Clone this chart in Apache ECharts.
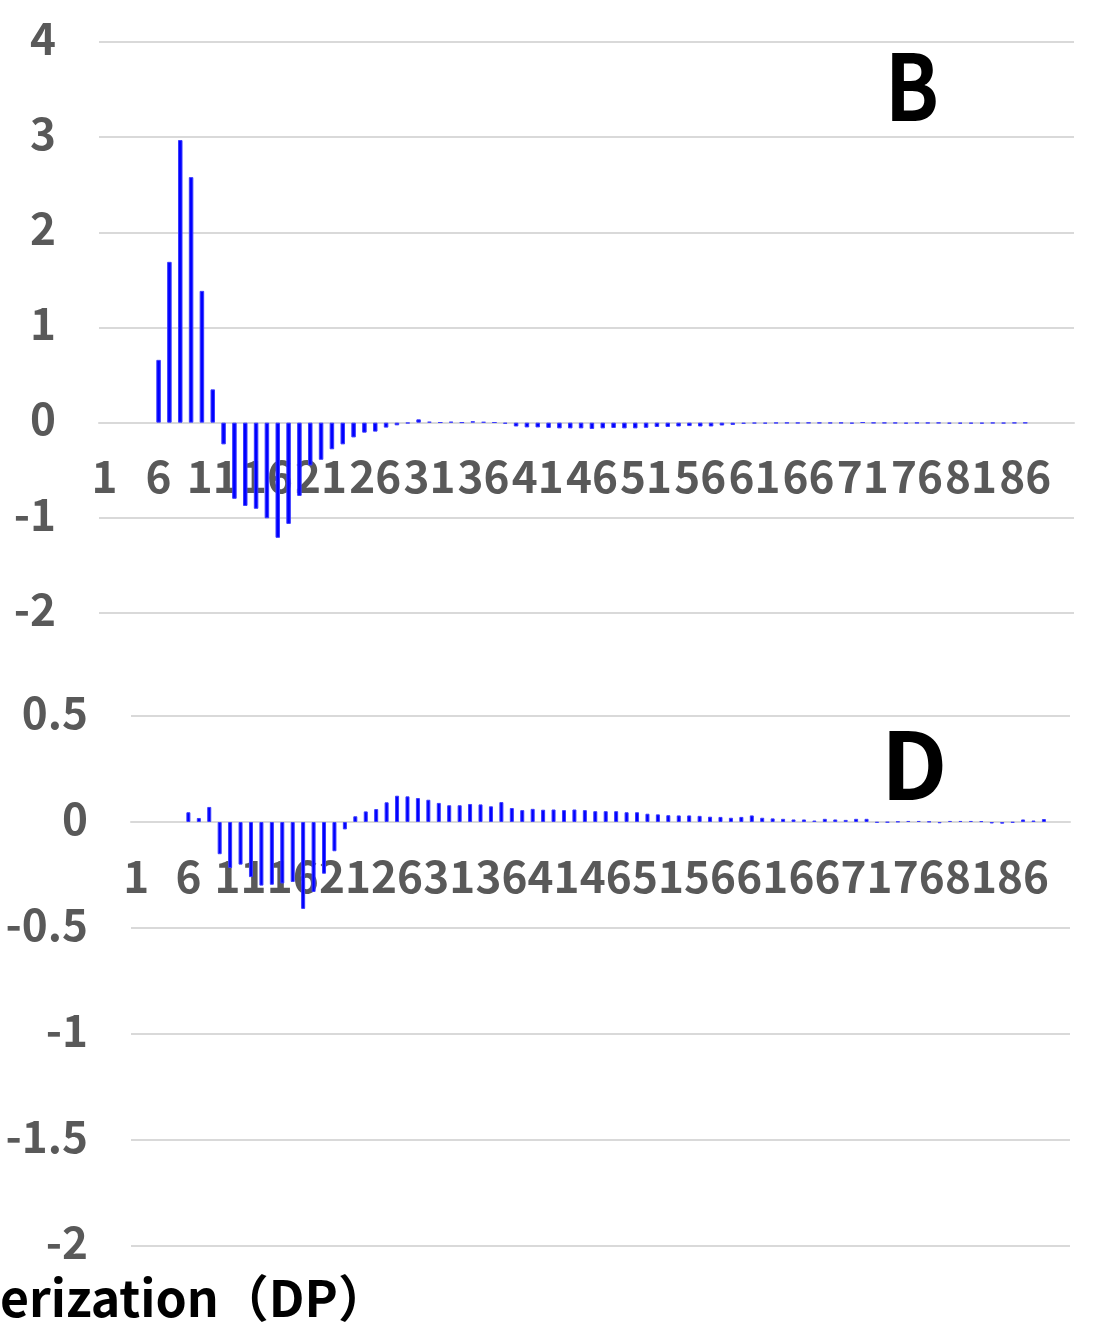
<!DOCTYPE html>
<html>
<head>
<meta charset="utf-8">
<script src="https://cdn.jsdelivr.net/npm/echarts@6/dist/echarts.min.js"></script>
<style>
html,body{margin:0;padding:0;background:#fff;}
#chart{width:1101px;height:1326px;}
</style>
</head>
<body>
<div id="chart"></div>
<script>
var categories = [1,2,3,4,5,6,7,8,9,10,11,12,13,14,15,16,17,18,19,20,21,22,23,24,25,26,27,28,29,30,
  31,32,33,34,35,36,37,38,39,40,41,42,43,44,45,46,47,48,49,50,51,52,53,54,55,56,57,58,59,60,
  61,62,63,64,65,66,67,68,69,70,71,72,73,74,75,76,77,78,79,80,81,82,83,84,85,86,87,88,89,90];

var seriesB = [null,null,null,null,null,0.66,1.69,2.97,2.58,1.385,
  0.35,-0.228,-0.80,-0.875,-0.905,-1.005,-1.21,-1.064,-0.77,-0.45,
  -0.39,-0.28,-0.228,-0.155,-0.105,-0.094,-0.052,-0.028,-0.007,0.035,
  0.010,0.003,0.010,0.002,0.015,0.008,0.003,-0.012,-0.040,-0.050,
  -0.050,-0.055,-0.060,-0.060,-0.060,-0.066,-0.060,-0.056,-0.060,-0.060,
  -0.054,-0.045,-0.045,-0.040,-0.036,-0.040,-0.040,-0.030,-0.024,-0.012,
  -0.008,-0.010,-0.006,-0.005,-0.006,-0.004,-0.005,-0.006,-0.005,-0.010,
  0.003,-0.004,-0.005,-0.006,-0.010,-0.005,-0.006,-0.005,-0.010,-0.010,
  -0.010,-0.010,-0.006,-0.008,-0.005,-0.004,null,null,null,null];

var seriesD = [null,null,null,null,null,0.046,0.019,0.071,-0.152,-0.217,
  -0.201,-0.26,-0.30,-0.296,-0.29,-0.283,-0.41,-0.33,-0.244,-0.138,
  -0.035,0.027,0.050,0.061,0.093,0.124,0.121,0.113,0.105,0.090,
  0.079,0.079,0.085,0.083,0.074,0.094,0.066,0.056,0.062,0.058,
  0.059,0.056,0.059,0.056,0.051,0.051,0.051,0.046,0.046,0.039,
  0.036,0.032,0.031,0.031,0.029,0.025,0.024,0.020,0.024,0.031,
  0.020,0.017,0.015,0.012,0.012,0.007,0.015,0.012,0.010,0.015,
  0.015,-0.003,-0.002,0.002,0.005,0.005,0.002,-0.006,0.005,0.005,
  0.005,0.004,-0.007,-0.008,-0.003,0.012,0.007,0.014,null,null];

var ticksB = {min:-2, max:4, interval:1};
var ticksD = {min:-2, max:0.5, interval:0.5};

var panelLetters = ['B','D'];
var footerText = 'erization（DP）';

var FONT = '"Noto Sans CJK JP", "Noto Sans", sans-serif';
var labelStyle = {color:'#595959', fontSize:44, fontWeight:'bold', fontFamily:FONT};
var gridLine = {color:'#d9d9d9', width:2};

var grids = [
  {left:99, top:42, width:975, height:571},
  {left:131, top:716, width:939, height:530}
];

// place the category labels next to the zero line (Excel "next to axis")
function zeroOffset(g, t){
  return -(g.height * (0 - t.min) / (t.max - t.min));
}

function xAx(idx, t){
  return {
    type:'category', gridIndex:idx, data:categories,
    offset: zeroOffset(grids[idx], t),
    axisLine:{show:true, onZero:false, lineStyle:gridLine},
    axisTick:{show:false},
    splitLine:{show:false},
    axisLabel:Object.assign({interval:4, margin:32}, labelStyle)
  };
}
function yAx(idx, t){
  return {
    type:'value', gridIndex:idx, min:t.min, max:t.max, interval:t.interval,
    axisLine:{show:false}, axisTick:{show:false},
    splitLine:{show:true, lineStyle:gridLine},
    axisLabel:Object.assign({
      margin:43,
      formatter:'{v|{value}}',
      rich:{v:Object.assign({padding:[0,0,8,0]}, labelStyle)}
    }, labelStyle)
  };
}
function barSeries(idx, data, w){
  return {
    type:'bar', xAxisIndex:idx, yAxisIndex:idx, data:data, barWidth:w,
    itemStyle:{color:'#0000ff', borderColor:'#3c3cff', borderWidth:1},
    silent:true, animation:false
  };
}

var chart = echarts.init(document.getElementById('chart'), null, {renderer:'canvas'});
chart.setOption({
  backgroundColor:'#ffffff',
  animation:false,
  grid:grids,
  xAxis:[xAx(0, ticksB), xAx(1, ticksD)],
  yAxis:[yAx(0, ticksB), yAx(1, ticksD)],
  series:[barSeries(0, seriesB, 4.5), barSeries(1, seriesD, 4)],
  graphic:[
    {type:'text', x:885, y:40, scaleX:0.86, style:{text:panelLetters[0], fill:'#000', font:'bold 92px ' + FONT}},
    {type:'text', x:881, y:718, style:{text:panelLetters[1], fill:'#000', font:'bold 93px ' + FONT}},
    {type:'text', left:0, top:1273, style:{text:footerText, fill:'#000', font:'bold 50px ' + FONT}}
  ]
});
</script>
</body>
</html>
